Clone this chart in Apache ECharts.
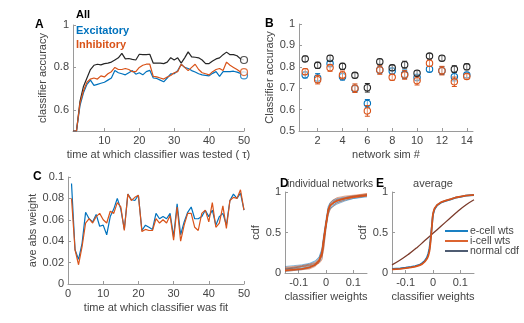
<!DOCTYPE html>
<html>
<head>
<meta charset="utf-8">
<script src="https://cdn.jsdelivr.net/npm/echarts@6/dist/echarts.min.js"></script>
<style>html,body{margin:0;padding:0;background:#fff}#chart{width:524px;height:323px}</style>
</head>
<body>
<div id="chart"></div>
<script>
var FONT = '"Liberation Sans", Arial, sans-serif';
var BLUE = '#0072BD', ORANGE = '#D95319', BLACK = '#262626';

// A: classifier accuracy vs test time
var accAll = [0.5,0.5,0.64,0.71,0.75,0.79,0.81,0.815,0.812,0.818,0.82,0.825,0.835,0.845,0.866,0.84,0.842,0.838,0.835,0.862,
  0.86,0.86,0.862,0.82,0.82,0.82,0.818,0.825,0.846,0.835,0.845,0.82,0.845,0.873,0.85,0.848,0.845,0.835,0.818,0.818,
  0.83,0.84,0.845,0.86,0.872,0.86,0.86,0.855,0.84,0.835];
var accExc = [0.5,0.5,0.62,0.68,0.72,0.74,0.715,0.72,0.725,0.73,0.74,0.75,0.785,0.775,0.77,0.765,0.775,0.785,0.768,0.775,
  0.765,0.78,0.786,0.75,0.748,0.74,0.732,0.75,0.77,0.77,0.785,0.815,0.8,0.795,0.785,0.778,0.77,0.765,0.762,0.76,
  0.772,0.78,0.758,0.78,0.78,0.78,0.782,0.778,0.772,0.762];
var accInh = [0.5,0.5,0.63,0.69,0.73,0.745,0.75,0.745,0.76,0.755,0.77,0.78,0.8,0.79,0.79,0.795,0.79,0.78,0.78,0.8,
  0.81,0.815,0.815,0.758,0.755,0.75,0.745,0.755,0.762,0.775,0.78,0.815,0.8,0.785,0.8,0.815,0.79,0.775,0.77,0.765,
  0.78,0.79,0.795,0.785,0.825,0.81,0.8,0.79,0.778,0.778];

// B: accuracy per network sim (mean, error)
var simAllMean = [0.837,0.807,0.840,0.802,0.760,0.702,0.824,0.795,0.810,0.770,0.850,0.840,0.789,0.800];
var simAllErr  = [0.013,0.014,0.013,0.014,0.012,0.02,0.012,0.013,0.016,0.012,0.012,0.012,0.016,0.014];
var simExcMean = [0.762,0.748,0.815,0.754,0.698,0.629,0.785,0.780,0.765,0.750,0.789,0.782,0.754,0.762];
var simExcErr  = [0.014,0.02,0.015,0.016,0.016,0.018,0.015,0.014,0.02,0.015,0.012,0.018,0.02,0.012];
var simInhMean = [0.777,0.740,0.795,0.762,0.700,0.594,0.785,0.751,0.762,0.735,0.817,0.782,0.730,0.755];
var simInhErr  = [0.014,0.02,0.016,0.018,0.02,0.025,0.02,0.014,0.02,0.02,0.015,0.02,0.022,0.012];

// C: average absolute weight vs fit time
var wExc = [0.094,0.032,0.023,0.038,0.067,0.061,0.058,0.065,0.054,0.055,0.046,0.063,0.07,0.08,0.07,0.051,0.084,0.079,0.078,0.083,
  0.05,0.055,0.053,0.051,0.066,0.061,0.063,0.061,0.066,0.044,0.075,0.046,0.058,0.067,0.072,0.061,0.061,0.063,0.069,0.063,
  0.069,0.055,0.063,0.066,0.055,0.078,0.084,0.08,0.085,0.069];
var wInh = [0.08,0.032,0.018,0.035,0.057,0.061,0.057,0.063,0.066,0.06,0.057,0.068,0.066,0.076,0.072,0.05,0.084,0.078,0.081,0.083,
  0.049,0.051,0.05,0.05,0.061,0.057,0.06,0.057,0.064,0.041,0.072,0.04,0.055,0.066,0.066,0.053,0.05,0.066,0.069,0.058,
  0.076,0.053,0.057,0.073,0.052,0.078,0.081,0.08,0.088,0.069];

// D: cdfs of classifier weights, individual networks
var dW = [-0.15,-0.12,-0.09,-0.06,-0.04,-0.025,-0.015,-0.008,0,0.008,0.015,0.025,0.04,0.07,0.1,0.15];
var dExc = [
  [0.02,0.03,0.04,0.06,0.09,0.14,0.22,0.4,0.62,0.8,0.86,0.89,0.91,0.93,0.95,0.97],
  [0.06,0.07,0.09,0.11,0.14,0.19,0.28,0.45,0.63,0.76,0.81,0.84,0.87,0.9,0.92,0.94],
  [0.04,0.05,0.06,0.08,0.1,0.13,0.18,0.33,0.55,0.72,0.79,0.83,0.87,0.91,0.94,0.96],
  [0.08,0.09,0.1,0.12,0.15,0.2,0.3,0.48,0.66,0.82,0.87,0.9,0.92,0.94,0.95,0.96],
  [0.03,0.04,0.05,0.07,0.1,0.16,0.24,0.38,0.58,0.74,0.8,0.82,0.85,0.89,0.92,0.95],
  [0.05,0.06,0.08,0.1,0.12,0.17,0.26,0.44,0.6,0.78,0.84,0.88,0.9,0.92,0.94,0.97]
];
var dInh = [
  [0.03,0.04,0.05,0.07,0.1,0.15,0.24,0.42,0.6,0.77,0.83,0.86,0.89,0.92,0.94,0.96],
  [0.07,0.08,0.09,0.11,0.13,0.18,0.27,0.46,0.64,0.79,0.84,0.87,0.9,0.92,0.93,0.95],
  [0.05,0.05,0.05,0.06,0.11,0.17,0.2,0.3,0.55,0.75,0.82,0.86,0.9,0.93,0.95,0.97],
  [0.04,0.06,0.08,0.1,0.12,0.16,0.25,0.43,0.62,0.8,0.85,0.88,0.91,0.93,0.95,0.98],
  [0.06,0.07,0.08,0.09,0.1,0.12,0.16,0.35,0.58,0.72,0.78,0.82,0.86,0.9,0.93,0.95],
  [0.02,0.03,0.04,0.05,0.08,0.13,0.22,0.4,0.6,0.78,0.86,0.9,0.93,0.95,0.96,0.98]
];
var dDark = [0.05,0.06,0.07,0.09,0.11,0.15,0.23,0.4,0.6,0.77,0.83,0.86,0.89,0.92,0.94,0.96];

// E: average cdfs
var eW = [-0.15,-0.12,-0.1,-0.08,-0.065,-0.05,-0.04,-0.03,-0.022,-0.017,-0.013,-0.01,-0.007,-0.004,-0.002,0,
  0.003,0.006,0.01,0.015,0.021,0.03,0.046,0.065,0.083,0.1,0.12,0.15];
var eExc = [0.05,0.058,0.065,0.075,0.085,0.1,0.12,0.15,0.19,0.24,0.3,0.38,0.48,0.58,0.66,0.72,
  0.76,0.79,0.81,0.835,0.855,0.87,0.89,0.91,0.93,0.94,0.955,0.963];
var eInh = [0.045,0.052,0.06,0.07,0.08,0.095,0.11,0.14,0.175,0.215,0.27,0.35,0.46,0.58,0.67,0.73,
  0.77,0.8,0.82,0.84,0.86,0.875,0.893,0.913,0.932,0.943,0.956,0.965];
var nW = [-0.15,-0.12,-0.09,-0.06,-0.03,0,0.03,0.06,0.09,0.12,0.15];
var nCdf = [0.1,0.16,0.23,0.31,0.4,0.49,0.58,0.67,0.76,0.84,0.905];

function pairs(xs, ys){ return ys.map(function(y,i){ return [xs[i], y]; }); }
function seq(n){ var a=[]; for(var i=1;i<=n;i++) a.push(i); return a; }
var t50 = seq(50), sims = seq(14);

var axLine = {show:true, onZero:false, lineStyle:{color:'#9a9a9a', width:1}};
var axTick = {show:true, inside:true, length:3, lineStyle:{color:'#9a9a9a'}};
var lbl = {color:'#444', fontSize:11, fontFamily:FONT, margin:4};
var nameSt = {color:'#444', fontSize:11, fontFamily:FONT};

function xAx(gi, min, max, ticks, name){
  return {type:'value', gridIndex:gi, min:min, max:max, name:name, nameLocation:'middle', nameGap:18,
    nameTextStyle:nameSt, axisLine:axLine, splitLine:{show:false},
    axisTick:Object.assign({customValues:ticks}, axTick), axisLabel:Object.assign({customValues:ticks}, lbl)};
}
function yAx(gi, min, max, ticks, name, gap){
  return {type:'value', gridIndex:gi, min:min, max:max, name:name, nameLocation:'middle', nameGap:gap,
    nameTextStyle:nameSt, axisLine:axLine, splitLine:{show:false},
    axisTick:Object.assign({customValues:ticks}, axTick), axisLabel:Object.assign({customValues:ticks}, lbl)};
}
function line(gi, data, color, w, extra){
  return Object.assign({type:'line', xAxisIndex:gi, yAxisIndex:gi, data:data, showSymbol:false, symbol:'none',
    lineStyle:{color:color, width:w}, itemStyle:{color:color}, animation:false}, extra || {});
}
function endMark(gi, x, y, color){
  return {type:'scatter', xAxisIndex:gi, yAxisIndex:gi, data:[[x,y]], symbol:'circle', symbolSize:7,
    itemStyle:{color:'#fff', borderColor:color, borderWidth:1.2}, animation:false, z:5, clip:false};
}
function errSeries(gi, means, errs, color){
  return {type:'custom', xAxisIndex:gi, yAxisIndex:gi, animation:false, z:3,
    data: means.map(function(m,i){ return [sims[i], m-errs[i], m+errs[i], m]; }),
    encode:{x:0, y:[1,2]},
    renderItem:function(params, api){
      var lo = api.coord([api.value(0), api.value(1)]);
      var hi = api.coord([api.value(0), api.value(2)]);
      var c = api.coord([api.value(0), api.value(3)]);
      var w = 2.5, st = {stroke:color, lineWidth:1, fill:null};
      return {type:'group', children:[
        {type:'line', shape:{x1:lo[0], y1:lo[1], x2:hi[0], y2:hi[1]}, style:st},
        {type:'line', shape:{x1:lo[0]-w, y1:lo[1], x2:lo[0]+w, y2:lo[1]}, style:st},
        {type:'line', shape:{x1:hi[0]-w, y1:hi[1], x2:hi[0]+w, y2:hi[1]}, style:st},
        {type:'circle', shape:{cx:c[0], cy:c[1], r:3.2}, style:{stroke:color, lineWidth:1.1, fill:'rgba(255,255,255,0.4)'}}
      ]};
    }};
}

var series = [
  line(0, pairs(t50, accAll), BLACK, 1.2),
  line(0, pairs(t50, accExc), BLUE, 1.2),
  line(0, pairs(t50, accInh), ORANGE, 1.2),
  endMark(0, 50, accAll[49], BLACK),
  endMark(0, 50, accExc[49], BLUE),
  endMark(0, 50, accInh[49], ORANGE),
  errSeries(1, simExcMean, simExcErr, BLUE),
  errSeries(1, simInhMean, simInhErr, ORANGE),
  errSeries(1, simAllMean, simAllErr, BLACK),
  line(2, pairs(t50, wExc), BLUE, 1.2),
  line(2, pairs(t50, wInh), ORANGE, 1.2)
];
dExc.forEach(function(c){ series.push(line(3, pairs(dW, c), BLUE, 0.8, {lineStyle:{color:BLUE, width:0.8, opacity:0.6}})); });
dInh.forEach(function(c){ series.push(line(3, pairs(dW, c), ORANGE, 0.8, {lineStyle:{color:ORANGE, width:0.8, opacity:0.6}})); });
series.push(line(3, pairs(dW, dDark), '#555', 0.8, {lineStyle:{color:'#555', width:0.8, opacity:0.5}}));
series.push(line(3, pairs(dW, dInh[0]), ORANGE, 1.6));
series.push(line(4, pairs(nW, nCdf), '#7b3a2a', 1.3, {smooth:true}));
series.push(line(4, pairs(eW, eExc), BLUE, 1.8));
series.push(line(4, pairs(eW, eInh), ORANGE, 1.8));

function bold(x, y, s, color){
  return {type:'text', x:x, y:y, style:{text:s, font:'bold 12px ' + FONT, fill:color || '#000', textVerticalAlign:'middle'}};
}
function plain(x, y, s, align, size){
  return {type:'text', x:x, y:y, style:{text:s, font:(size || 11) + 'px ' + FONT, fill:'#444', textAlign:align || 'left', textVerticalAlign:'middle'}};
}
function legLine(y, color, label){
  return [
    {type:'line', shape:{x1:445, y1:y, x2:468, y2:y}, style:{stroke:color, lineWidth:1.8}},
    {type:'text', x:470, y:y, style:{text:label, font:'10.5px ' + FONT, fill:'#444', textVerticalAlign:'middle'}}
  ];
}

var graphics = [
  bold(35, 25, 'A'), bold(265, 24, 'B'), bold(33, 177, 'C'), bold(280, 184, 'D'), bold(376, 184, 'E'),
  {type:'text', x:76, y:15, style:{text:'All', font:'bold 11px ' + FONT, fill:'#000', textVerticalAlign:'middle'}},
  {type:'text', x:76, y:31, style:{text:'Excitatory', font:'bold 11px ' + FONT, fill:BLUE, textVerticalAlign:'middle'}},
  {type:'text', x:76, y:45, style:{text:'Inhibitory', font:'bold 11px ' + FONT, fill:ORANGE, textVerticalAlign:'middle'}},
  plain(287, 184, 'individual networks', 'left', 10.2),
  plain(433, 184, 'average', 'center', 11)
].concat(legLine(231, BLUE, 'e-cell wts'), legLine(241, ORANGE, 'i-cell wts'), legLine(251, '#3b4a63', 'normal cdf'));

var option = {
  animation:false,
  textStyle:{fontFamily:FONT},
  grid:[
    {left:73, top:25, width:171, height:106},
    {left:299, top:24, width:174, height:107},
    {left:68, top:177, width:176, height:107},
    {left:285, top:192, width:82, height:81},
    {left:392, top:192, width:82, height:81}
  ],
  xAxis:[
    xAx(0, 1, 50, [10,20,30,40,50], 'time at which classifier was tested ( \u03c4)'),
    xAx(1, 0.5, 14.5, [2,4,6,8,10,12,14], 'network sim #'),
    xAx(2, 0, 50, [0,10,20,30,40,50], 'time at which classifier was fit'),
    xAx(3, -0.15, 0.15, [-0.1,0,0.1], 'classifier weights'),
    xAx(4, -0.15, 0.15, [-0.1,0,0.1], 'classifier weights')
  ],
  yAxis:[
    yAx(0, 0.5, 1, [0.6,0.8,1], 'classifier accuracy', 25),
    yAx(1, 0.5, 1, [0.5,0.6,0.7,0.8,0.9,1], 'Classifier accuracy', 21),
    yAx(2, 0, 0.1, [0,0.02,0.04,0.06,0.08,0.1], 'ave abs weight', 27),
    yAx(3, 0, 1, [0,0.5,1], 'cdf', 21),
    yAx(4, 0, 1, [0,0.5,1], 'cdf', 23)
  ],
  graphic:graphics,
  series:series
};
echarts.init(document.getElementById('chart')).setOption(option);
</script>
</body>
</html>
